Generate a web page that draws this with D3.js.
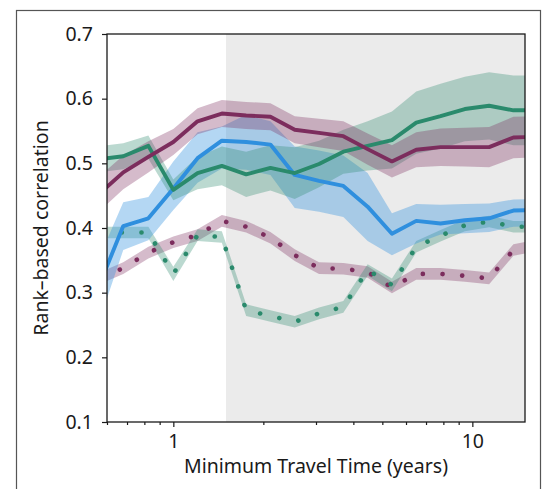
<!DOCTYPE html>
<html>
<head>
<meta charset="utf-8">
<script src="https://cdn.jsdelivr.net/npm/d3@7"></script>
<style>
body { margin: 0; background: #fff; }
text { font-family: "Noto Sans", sans-serif; }
</style>
</head>
<body>
<script>
// minimum travel time grid (years)
var xs = [0.56, 0.68, 0.825, 1.0, 1.205, 1.453, 1.752, 2.112, 2.547, 3.071, 3.703, 4.465, 5.384, 6.492, 7.828, 9.438, 11.38, 13.72, 16.5];

var purpleMean = [0.451, 0.486, 0.510, 0.533, 0.565, 0.577, 0.574, 0.572, 0.552, 0.547, 0.542, 0.522, 0.503, 0.521, 0.525, 0.525, 0.525, 0.540, 0.541];
var purpleLo   = [0.424, 0.460, 0.486, 0.513, 0.545, 0.556, 0.553, 0.551, 0.531, 0.525, 0.519, 0.498, 0.478, 0.494, 0.496, 0.495, 0.494, 0.508, 0.509];
var purpleHi   = [0.478, 0.512, 0.534, 0.553, 0.585, 0.598, 0.595, 0.593, 0.573, 0.569, 0.565, 0.546, 0.528, 0.548, 0.554, 0.555, 0.556, 0.572, 0.573];

var greenMean = [0.506, 0.511, 0.527, 0.459, 0.485, 0.496, 0.483, 0.493, 0.485, 0.499, 0.518, 0.527, 0.536, 0.563, 0.573, 0.584, 0.589, 0.582, 0.582];
var greenLo   = [0.486, 0.491, 0.507, 0.443, 0.460, 0.466, 0.448, 0.458, 0.445, 0.463, 0.484, 0.489, 0.492, 0.515, 0.523, 0.534, 0.537, 0.528, 0.528];
var greenHi   = [0.526, 0.531, 0.543, 0.475, 0.510, 0.526, 0.518, 0.528, 0.525, 0.535, 0.552, 0.565, 0.580, 0.611, 0.623, 0.634, 0.641, 0.636, 0.636];

var blueMean = [0.307, 0.403, 0.415, 0.461, 0.508, 0.535, 0.533, 0.529, 0.482, 0.473, 0.465, 0.433, 0.391, 0.411, 0.407, 0.412, 0.415, 0.427, 0.428];
var blueLo   = [0.250, 0.366, 0.381, 0.428, 0.470, 0.492, 0.490, 0.482, 0.431, 0.425, 0.417, 0.380, 0.358, 0.376, 0.390, 0.392, 0.394, 0.402, 0.403];
var blueHi   = [0.350, 0.440, 0.448, 0.503, 0.548, 0.557, 0.575, 0.565, 0.526, 0.520, 0.512, 0.485, 0.423, 0.437, 0.436, 0.437, 0.438, 0.444, 0.445];

var purpleDotMean = [0.321, 0.338, 0.362, 0.378, 0.389, 0.411, 0.402, 0.385, 0.358, 0.338, 0.337, 0.332, 0.308, 0.329, 0.329, 0.326, 0.322, 0.366, 0.373];
var purpleDotLo   = [0.312, 0.329, 0.353, 0.369, 0.380, 0.402, 0.393, 0.376, 0.349, 0.329, 0.328, 0.323, 0.299, 0.320, 0.320, 0.317, 0.313, 0.357, 0.364];
var purpleDotHi   = [0.330, 0.347, 0.371, 0.387, 0.398, 0.420, 0.411, 0.394, 0.367, 0.347, 0.346, 0.341, 0.317, 0.338, 0.338, 0.335, 0.331, 0.375, 0.382];

var greenDotMean = [0.393, 0.393, 0.393, 0.329, 0.389, 0.386, 0.273, 0.264, 0.255, 0.268, 0.278, 0.335, 0.312, 0.371, 0.388, 0.404, 0.410, 0.402, 0.402];
var greenDotLo   = [0.384, 0.384, 0.384, 0.318, 0.380, 0.377, 0.264, 0.255, 0.246, 0.259, 0.269, 0.326, 0.302, 0.362, 0.379, 0.395, 0.401, 0.393, 0.393];
var greenDotHi   = [0.402, 0.402, 0.402, 0.340, 0.398, 0.395, 0.282, 0.273, 0.264, 0.277, 0.287, 0.344, 0.322, 0.380, 0.397, 0.413, 0.419, 0.411, 0.411];

var yTicks = [0.1, 0.2, 0.3, 0.4, 0.5, 0.6, 0.7];
var xMajor = [1, 10];
var xMinor = [0.6, 0.7, 0.8, 0.9, 2, 3, 4, 5, 6, 7, 8, 9];
var shadeFrom = 1.5;

var W = 546, H = 489;
var margin = {top: 34, right: 21, bottom: 67, left: 107},
    width = W - margin.left - margin.right,
    height = H - margin.top - margin.bottom;

var svg = d3.select("body").append("svg")
    .attr("width", W)
    .attr("height", H);

// figure frame
svg.append("rect")
    .attr("x", 16.5).attr("y", 10.5)
    .attr("width", 524).attr("height", 500)
    .attr("fill", "none")
    .attr("stroke", "#555")
    .attr("stroke-width", 1.2);

var g = svg.append("g")
    .attr("transform", "translate(" + margin.left + "," + margin.top + ")");

var x = d3.scaleLog().domain([0.6, 15]).range([0, width]);
var y = d3.scaleLinear().domain([0.1, 0.7]).range([height, 0]);

g.append("clipPath").attr("id", "clip")
  .append("rect").attr("width", width).attr("height", height);

g.append("rect")
    .attr("x", x(shadeFrom)).attr("y", 0)
    .attr("width", x(15) - x(shadeFrom)).attr("height", height)
    .attr("fill", "#ebebeb");

var series = [
  {mean: purpleDotMean, lo: purpleDotLo, hi: purpleDotHi, color: "#7c2d5d", dotted: true},
  {mean: greenDotMean, lo: greenDotLo, hi: greenDotHi, color: "#2a8a6c", dotted: true},
  {mean: blueMean, lo: blueLo, hi: blueHi, color: "#2f8fde", dotted: false, band: 0.36},
  {mean: greenMean, lo: greenLo, hi: greenHi, color: "#2a8a6c", dotted: false},
  {mean: purpleMean, lo: purpleLo, hi: purpleHi, color: "#7c2d5d", dotted: false}
];

var area = d3.area()
    .x(function(d) { return x(d.x); })
    .y0(function(d) { return y(d.lo); })
    .y1(function(d) { return y(d.hi); });

var line = d3.line()
    .x(function(d) { return x(d.x); })
    .y(function(d) { return y(d.m); });

var plot = g.append("g").attr("clip-path", "url(#clip)");

series.forEach(function(s) {
  var pts = xs.map(function(v, i) { return {x: v, m: s.mean[i], lo: s.lo[i], hi: s.hi[i]}; });
  plot.append("path")
      .datum(pts)
      .attr("d", area)
      .attr("fill", s.color)
      .attr("fill-opacity", s.band || 0.32);
  s.pts = pts;
});

series.forEach(function(s) {
  var p = plot.append("path")
      .datum(s.pts)
      .attr("d", line)
      .attr("fill", "none")
      .attr("stroke", s.color)
      .attr("stroke-linejoin", "round");
  if (s.dotted) {
    p.attr("stroke-width", 4.6)
     .attr("stroke-linecap", "round")
     .attr("stroke-dasharray", "0.1 19.6")
     .attr("stroke-dashoffset", -4);
  } else {
    p.attr("stroke-width", 3.9);
  }
});

// axes
var yAxis = g.append("g")
    .call(d3.axisLeft(y).tickValues(yTicks).tickFormat(d3.format(".1f")).tickSize(5).tickPadding(9).tickSizeOuter(0));

var xAxis = g.append("g")
    .attr("transform", "translate(0," + height + ")")
    .call(d3.axisBottom(x).tickValues(xMajor).tickFormat(d3.format("d")).tickSize(5).tickPadding(7).tickSizeOuter(0));

g.append("g")
    .attr("transform", "translate(0," + height + ")")
    .call(d3.axisBottom(x).tickValues(xMinor).tickFormat("").tickSize(3).tickSizeOuter(0))
    .select(".domain").remove();

[yAxis, xAxis].forEach(function(a) {
  a.selectAll("text").style("font-size", "19.5px").attr("fill", "#1a1a1a");
  a.select(".domain").remove();
});
g.selectAll(".tick line").attr("stroke", "#1a1a1a").attr("stroke-width", 1.2);

// spines
g.append("rect")
    .attr("width", width).attr("height", height)
    .attr("fill", "none")
    .attr("stroke", "#1a1a1a")
    .attr("stroke-width", 1.3);

g.append("text")
    .attr("x", width / 2)
    .attr("y", height + 51)
    .attr("text-anchor", "middle")
    .style("font-size", "19.5px")
    .attr("fill", "#1a1a1a")
    .text("Minimum Travel Time (years)");

g.append("text")
    .attr("transform", "translate(" + (48 - margin.left) + "," + (height / 2) + ") rotate(-90)")
    .attr("text-anchor", "middle")
    .style("font-size", "19.5px")
    .attr("fill", "#1a1a1a")
    .text("Rank\u2013based correlation");
</script>
</body>
</html>
